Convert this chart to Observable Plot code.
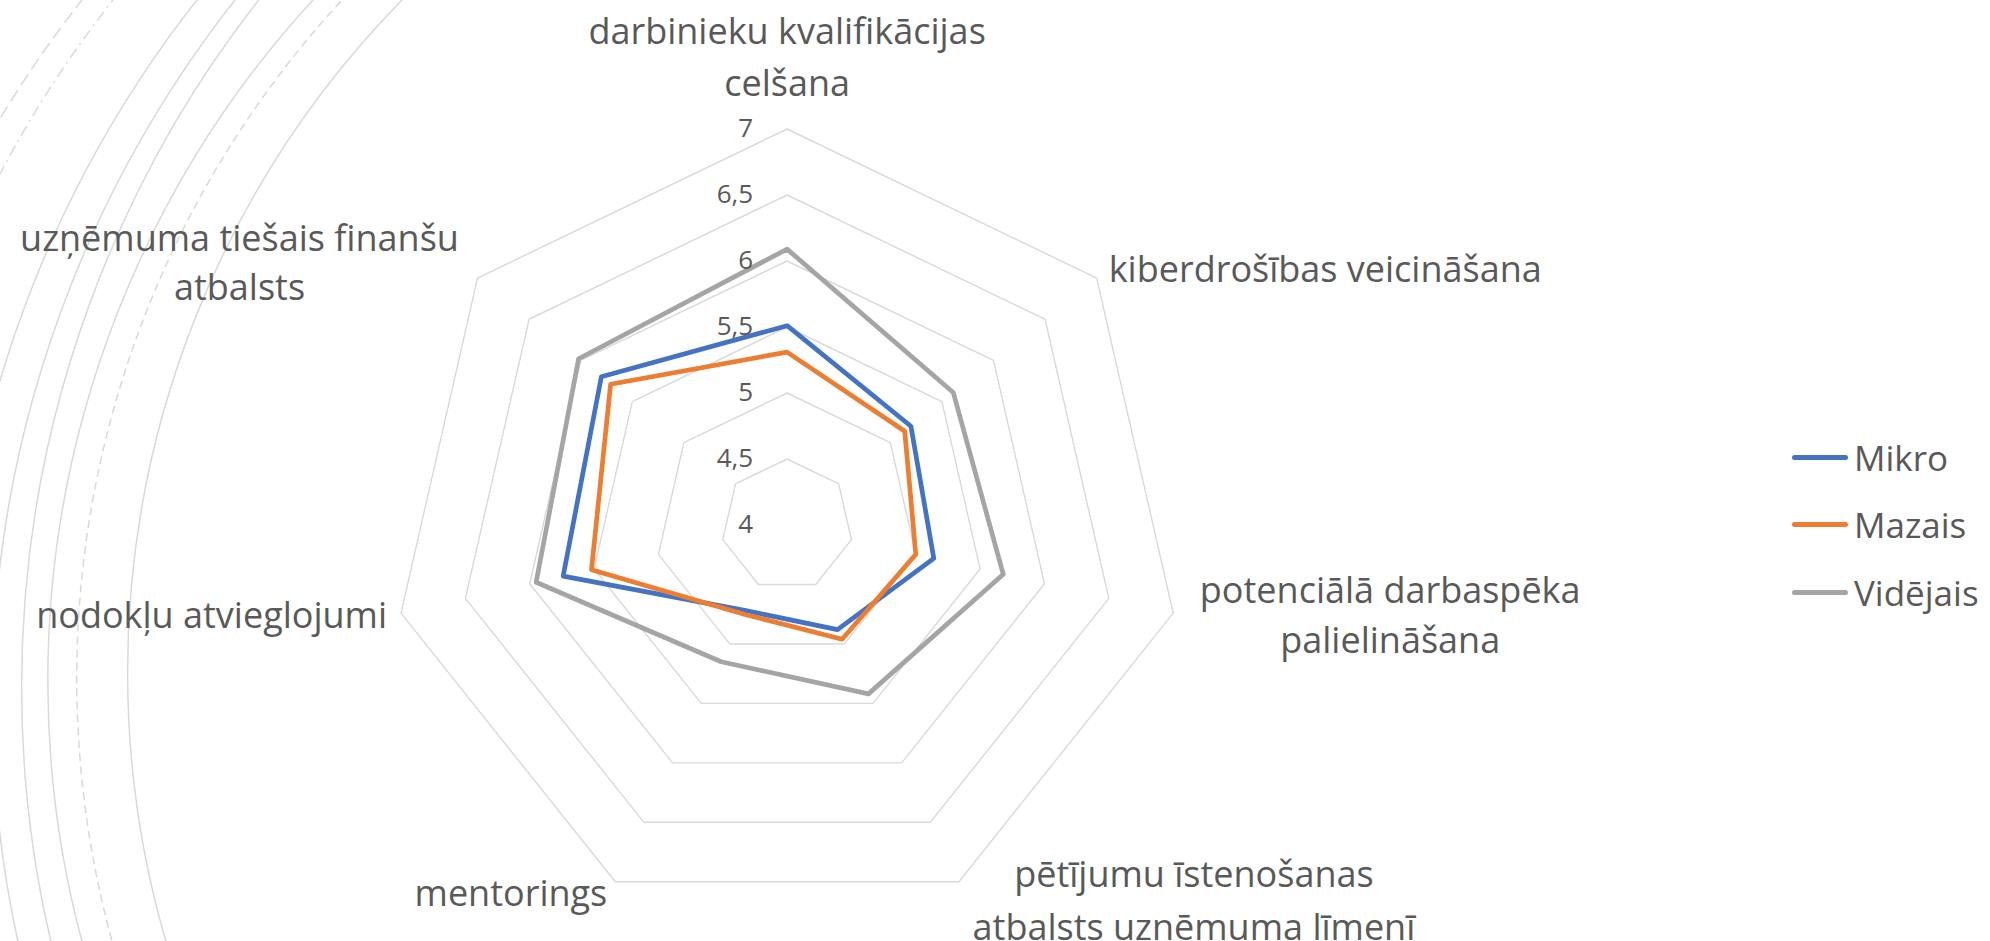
<!DOCTYPE html>
<html><head><meta charset="utf-8">
<script src="https://cdn.jsdelivr.net/npm/d3@7"></script>
<script src="https://cdn.jsdelivr.net/npm/@observablehq/plot@0.6"></script>
<style>
html,body{margin:0;padding:0;background:#fff;}
#wrap{position:relative;width:1990px;height:941px;overflow:hidden;font-family:"Open Sans",Lato,sans-serif;}
#decor{position:absolute;left:0;top:0;}
#chart{position:absolute;left:0;top:0;}
#legend{position:absolute;left:0;top:0;width:1990px;height:941px;pointer-events:none;}
.li{position:absolute;display:flex;align-items:center;font-size:35px;color:#595959;white-space:nowrap;}
.li .sw{width:56px;height:5px;border-radius:3px;margin-right:6px;}
</style></head>
<body><div id="wrap"><svg id="decor" width="1990" height="941"></svg><div id="chart"></div><div id="legend"></div></div>
<script>
// ---- data ----
const categories = [
  "darbinieku kvalifikācijas\ncelšana",
  "kiberdrošības veicināšana",
  "potenciālā darbaspēka\npalielināšana",
  "pētījumu īstenošanas\natbalsts uzņēmuma līmenī",
  "mentorings",
  "nodokļu atvieglojumi",
  "uzņēmuma tiešais finanšu\natbalsts"
];
const series = ["Mikro", "Mazais", "Vidējais"];
const mikro    = [5.51, 5.20, 5.14, 4.88, 4.72, 5.74, 5.80];
const mazais   = [5.31, 5.14, 5.00, 4.96, 4.75, 5.52, 5.71];
const videjais = [6.09, 5.61, 5.68, 5.42, 5.15, 5.95, 6.02];
const ticks = [4, 4.5, 5, 5.5, 6, 6.5, 7];
const tickLabels = ["4", "4,5", "5", "5,5", "6", "6,5", "7"];
const colors = ["#4472C4", "#ED7D31", "#A5A5A5"];

// ---- layout ----
const W = 1990, H = 941, CX = 786.6, CY = 524.5, UNIT = 132;
const FONT = '"Open Sans", Lato, sans-serif';
const labelLayout = [
  {anchor: "middle", dx: 0,    dy: -76, lh: 1.46},
  {anchor: "start",  dx: 12,   dy: -12, lh: 1.36},
  {anchor: "middle", dx: 217,  dy: -1,  lh: 1.38},
  {anchor: "middle", dx: 235,  dy: 15,  lh: 1.46},
  {anchor: "end",    dx: -8,   dy: 9,   lh: 1.36},
  {anchor: "end",    dx: -14,  dy: -1,  lh: 1.36},
  {anchor: "middle", dx: -238, dy: -18, lh: 1.36}
];

const n = categories.length;
const ang = k => 2 * Math.PI * k / n;
const rad = v => v - ticks[0];
const px = (v, k) => rad(v) * Math.sin(ang(k));
const py = (v, k) => rad(v) * Math.cos(ang(k));
const vmax = ticks[ticks.length - 1];

const seriesValues = [mikro, mazais, videjais];
const rows = series.flatMap((s, i) => seriesValues[i].map((v, k) => ({series: s, k, v})));
const rings = ticks.filter(t => t > ticks[0]).flatMap(t => categories.map((c, k) => ({t, k})));

const marks = [
  Plot.line(rings, {x: d => px(d.t, d.k), y: d => py(d.t, d.k), z: "t", curve: "linear-closed", stroke: "#d9d9d9", strokeWidth: 1.4}),
  Plot.line(rows, {x: d => px(d.v, d.k), y: d => py(d.v, d.k), z: "series", stroke: "series", curve: "linear-closed", strokeWidth: 4.7}),
  Plot.text(ticks, {x: 0, y: t => rad(t), text: (t, i) => tickLabels[i], textAnchor: "end", dx: -34, fill: "#595959", fontSize: 26, fontFamily: FONT})
];
categories.forEach((c, k) => {
  const L = labelLayout[k];
  marks.push(Plot.text([k], {x: k => px(vmax, k), y: k => py(vmax, k), text: k => categories[k],
    textAnchor: L.anchor, dx: L.dx, dy: L.dy, lineHeight: L.lh, fill: "#595959", fontSize: 36, fontFamily: FONT}));
});

const plot = Plot.plot({
  width: W, height: H, margin: 0,
  x: {type: "linear", domain: [-CX / UNIT, (W - CX) / UNIT], axis: null},
  y: {type: "linear", domain: [-(H - CY) / UNIT, CY / UNIT], axis: null},
  color: {domain: series, range: colors},
  style: {background: "transparent", fontFamily: FONT},
  marks
});
document.getElementById("chart").appendChild(plot);

// ---- legend ----
const legendY = [457, 524, 592];
const leg = document.getElementById("legend");
series.forEach((s, i) => {
  const d = document.createElement("div");
  d.className = "li";
  d.style.left = "1792px";
  d.style.top = (legendY[i] - 22) + "px";
  d.style.height = "44px";
  d.innerHTML = `<div class="sw" style="background:${colors[i]}"></div><span>${s}</span>`;
  leg.appendChild(d);
});

// ---- decorative background arcs (slide decoration, left side only) ----
function circle3([x1, y1], [x2, y2], [x3, y3]) {
  const A = x1 * (y2 - y3) - y1 * (x2 - x3) + x2 * y3 - x3 * y2;
  const B = (x1*x1 + y1*y1) * (y3 - y2) + (x2*x2 + y2*y2) * (y1 - y3) + (x3*x3 + y3*y3) * (y2 - y1);
  const C = (x1*x1 + y1*y1) * (x2 - x3) + (x2*x2 + y2*y2) * (x3 - x1) + (x3*x3 + y3*y3) * (x1 - x2);
  const cx = -B / (2 * A), cy = -C / (2 * A);
  return {cx, cy, r: Math.hypot(x1 - cx, y1 - cy)};
}
const arcE = [[235, 0], [-8, 700], [18, 941]];
const shift = (pts, s) => pts.map(([x, y]) => [x + s, y]);
const decorArcs = [
  {pts: [[402, 0], [128, 700], [166, 941]], dash: null},
  {pts: [[342, 0], [77, 700], [112, 941]], dash: "8,5"},
  {pts: [[313, 0], [48, 700], [82, 941]], dash: null},
  {pts: [[259, 0], [21.7, 700], [51, 941]], dash: null},
  {pts: arcE, dash: null},
  {pts: shift(arcE, -38), dash: null},
  {pts: shift(arcE, -122), dash: "11,5,2,5"},
  {pts: shift(arcE, -153), dash: "13,6"}
];
const dsvg = d3.select("#decor");
dsvg.append("defs").append("clipPath").attr("id", "leftclip")
  .append("rect").attr("x", 0).attr("y", 0).attr("width", 700).attr("height", 941);
const g = dsvg.append("g").attr("clip-path", "url(#leftclip)");
decorArcs.forEach(a => {
  const c = circle3(...a.pts);
  g.append("circle").attr("cx", c.cx).attr("cy", c.cy).attr("r", c.r)
    .attr("fill", "none").attr("stroke", "#d9d9d9").attr("stroke-width", 1.5)
    .attr("stroke-dasharray", a.dash);
});
</script>
</body></html>
